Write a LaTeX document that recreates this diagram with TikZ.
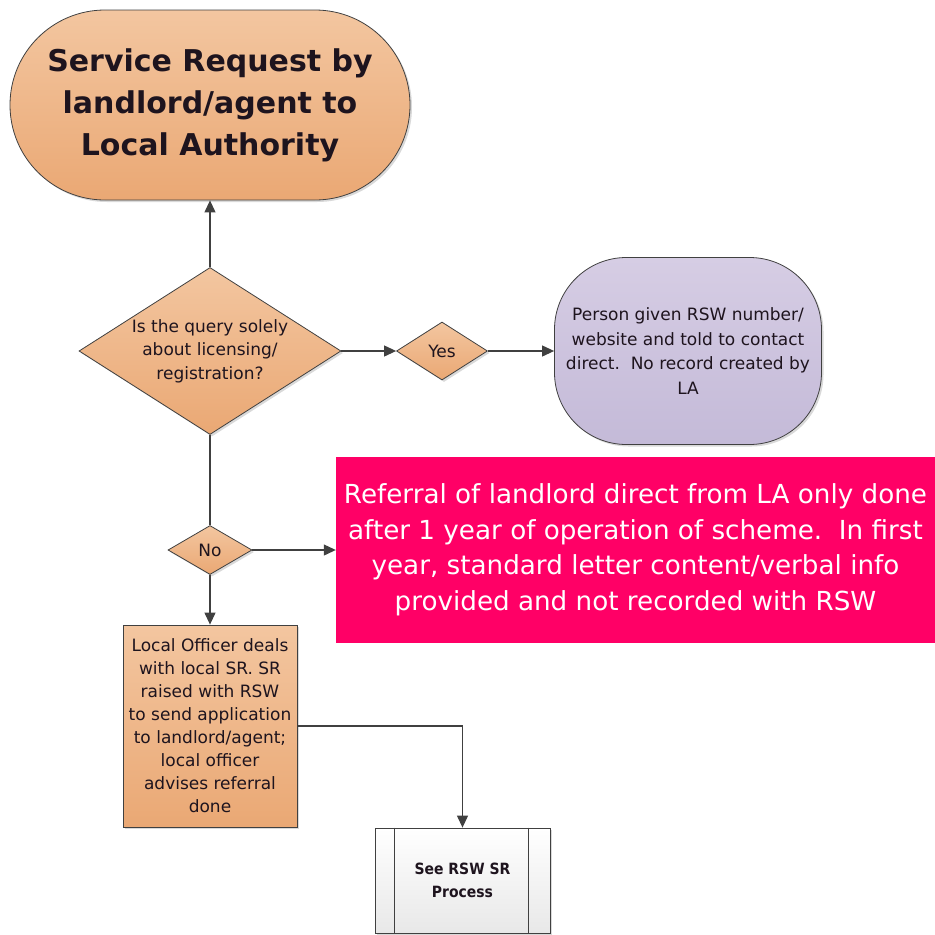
\documentclass[tikz,border=0pt]{standalone}
\usepackage{fontspec}
\setmainfont{DejaVu Sans}
\newfontfamily\condfont{DejaVu Sans Condensed}
\usetikzlibrary{shapes.geometric,shadows,arrows.meta}
\definecolor{orT}{RGB}{243,198,160}
\definecolor{orB}{RGB}{234,168,116}
\definecolor{puT}{RGB}{214,205,228}
\definecolor{puB}{RGB}{196,186,216}
\definecolor{pink}{RGB}{255,0,102}
\definecolor{ln}{RGB}{64,64,64}
\definecolor{txt}{RGB}{30,20,30}
\tikzset{
  shd/.style={drop shadow={shadow xshift=2pt,shadow yshift=-2pt,opacity=0.25,fill=black!60}},
  orange/.style={draw=ln,line width=0.8pt,top color=orT,bottom color=orB,text=txt,shd},
  dec/.style={orange,diamond,inner sep=0pt,align=center},
  conn/.style={draw=ln,line width=1.1pt},
  arr/.style={conn,-{Triangle[length=12pt,width=11pt]}},
  small/.style={font=\fontsize{17}{23.5}\selectfont}
}
\begin{document}
\begin{tikzpicture}[x=1pt,y=-1pt]
\useasboundingbox (0,0) rectangle (935,935);
\node[orange,rectangle,rounded corners=95pt,minimum width=400pt,minimum height=190pt,align=center,
  font=\bfseries\fontsize{30}{42}\selectfont] (title) at (210,105)
  {Service Request by\\landlord/agent to\\Local Authority};
\node[dec,minimum width=262pt,minimum height=167pt,
  label={[small,align=center,text=txt]center:Is the query solely\\about licensing/\\registration?}] (q) at (210,351) {};
\node[dec,minimum width=91pt,minimum height=58pt,small] (yes) at (442,351) {Yes};
\node[draw=ln,line width=0.8pt,top color=puT,bottom color=puB,text=txt,shd,rectangle,rounded corners=72pt,
  minimum width=267pt,minimum height=187pt,align=center,font=\fontsize{17}{24.5}\selectfont] (person) at (688,351)
  {Person given RSW number/\\website and told to contact\\direct.\ \ No record created by\\LA};
\node[dec,minimum width=84pt,minimum height=49pt,small] (no) at (210,550) {No};
\node[fill=pink,text=white,rectangle,minimum width=599pt,minimum height=186pt,align=center,inner sep=0pt,
  font=\fontsize{26.2}{35.5}\selectfont] (note) at (635.5,550)
  {Referral of landlord direct from LA only done\\after 1 year of operation of scheme.\ \ In first\\year, standard letter content/verbal info\\provided and not recorded with RSW};
\node[orange,rectangle,minimum width=174pt,minimum height=202pt,align=center,inner sep=0pt,
  font=\fontsize{17}{23}\selectfont] (officer) at (210,726)
  {Local Officer deals\\with local SR. SR\\raised with RSW\\to send application\\to landlord/agent;\\local officer\\advises referral\\done};
\node[draw=ln,line width=0.8pt,top color=white,bottom color=black!9,shd,rectangle,minimum width=175pt,minimum height=105pt,
  align=center,text=txt,font=\condfont\bfseries\fontsize{15.5}{23}\selectfont] (sub) at (462.5,880.5)
  {See RSW SR\\Process};
\draw[draw=ln,line width=0.8pt] ([xshift=20pt]sub.north west) -- ([xshift=20pt]sub.south west)
  ([xshift=-22pt]sub.north east) -- ([xshift=-22pt]sub.south east);
\coordinate (elbow) at (sub.north |- officer.east);
\draw[arr] (q.north) -- (title.south);
\draw[arr] (q.east) -- (yes.west);
\draw[arr] (yes.east) -- (person.west);
\draw[conn] (q.south) -- (no.north);
\draw[arr] (no.east) -- (note.west);
\draw[arr] (no.south) -- (officer.north);
\draw[arr] (officer.east) -- (elbow) -- (sub.north);
\end{tikzpicture}
\end{document}
